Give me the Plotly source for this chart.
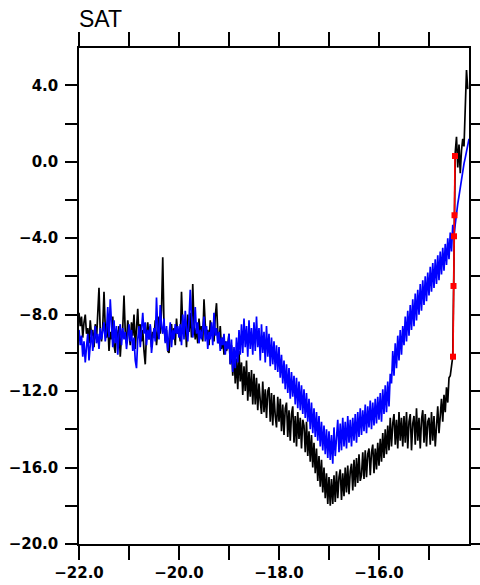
import plotly.graph_objects as go

# ---- data ----
x_time = [
    -22.000, -21.975, -21.950, -21.925, -21.900, -21.875, -21.850, -21.825, -21.800, -21.775,
    -21.750, -21.725, -21.700, -21.675, -21.650, -21.625, -21.600, -21.575, -21.550, -21.525,
    -21.500, -21.475, -21.450, -21.425, -21.400, -21.375, -21.350, -21.325, -21.300, -21.275,
    -21.250, -21.225, -21.200, -21.175, -21.150, -21.125, -21.100, -21.075, -21.050, -21.025,
    -21.000, -20.975, -20.950, -20.925, -20.900, -20.875, -20.850, -20.825, -20.800, -20.775,
    -20.750, -20.725, -20.700, -20.675, -20.650, -20.625, -20.600, -20.575, -20.550, -20.525,
    -20.500, -20.475, -20.450, -20.425, -20.400, -20.375, -20.350, -20.325, -20.300, -20.275,
    -20.250, -20.225, -20.200, -20.175, -20.150, -20.125, -20.100, -20.075, -20.050, -20.025,
    -20.000, -19.975, -19.950, -19.925, -19.900, -19.875, -19.850, -19.825, -19.800, -19.775,
    -19.750, -19.725, -19.700, -19.675, -19.650, -19.625, -19.600, -19.575, -19.550, -19.525,
    -19.500, -19.475, -19.450, -19.425, -19.400, -19.375, -19.350, -19.325, -19.300, -19.275,
    -19.250, -19.225, -19.200, -19.175, -19.150, -19.125, -19.100, -19.075, -19.050, -19.025,
    -19.000, -18.975, -18.950, -18.925, -18.900, -18.875, -18.850, -18.825, -18.800, -18.775,
    -18.750, -18.725, -18.700, -18.675, -18.650, -18.625, -18.600, -18.575, -18.550, -18.525,
    -18.500, -18.475, -18.450, -18.425, -18.400, -18.375, -18.350, -18.325, -18.300, -18.275,
    -18.250, -18.225, -18.200, -18.175, -18.150, -18.125, -18.100, -18.075, -18.050, -18.025,
    -18.000, -17.975, -17.950, -17.925, -17.900, -17.875, -17.850, -17.825, -17.800, -17.775,
    -17.750, -17.725, -17.700, -17.675, -17.650, -17.625, -17.600, -17.575, -17.550, -17.525,
    -17.500, -17.475, -17.450, -17.425, -17.400, -17.375, -17.350, -17.325, -17.300, -17.275,
    -17.250, -17.225, -17.200, -17.175, -17.150, -17.125, -17.100, -17.075, -17.050, -17.025,
    -17.000, -16.975, -16.950, -16.925, -16.900, -16.875, -16.850, -16.825, -16.800, -16.775,
    -16.750, -16.725, -16.700, -16.675, -16.650, -16.625, -16.600, -16.575, -16.550, -16.525,
    -16.500, -16.475, -16.450, -16.425, -16.400, -16.375, -16.350, -16.325, -16.300, -16.275,
    -16.250, -16.225, -16.200, -16.175, -16.150, -16.125, -16.100, -16.075, -16.050, -16.025,
    -16.000, -15.975, -15.950, -15.925, -15.900, -15.875, -15.850, -15.825, -15.800, -15.775,
    -15.750, -15.725, -15.700, -15.675, -15.650, -15.625, -15.600, -15.575, -15.550, -15.525,
    -15.500, -15.475, -15.450, -15.425, -15.400, -15.375, -15.350, -15.325, -15.300, -15.275,
    -15.250, -15.225, -15.200, -15.175, -15.150, -15.125, -15.100, -15.075, -15.050, -15.025,
    -15.000, -14.975, -14.950, -14.925, -14.900, -14.875, -14.850, -14.825, -14.800, -14.775,
    -14.750, -14.725, -14.700, -14.675, -14.650, -14.625, -14.600, -14.575, -14.550, -14.525,
    -14.500, -14.475, -14.450, -14.425, -14.400, -14.375, -14.350, -14.325, -14.300, -14.275,
    -14.250, -14.225, -14.200,
]

sat_black = [
    -7.9, -8.6, -8.1, -9.2, -8.4, -8.0, -9.0, -8.7, -9.5, -8.3, -9.1, -8.8, -9.7, -8.5, -9.3, -7.4, -6.6, -8.9, -9.4, -8.6,
    -6.8, -8.7, -9.2, -8.4, -9.9, -8.9, -9.3, -8.1, -9.6, -10.0, -8.8, -9.4, -8.6, -10.2, -9.1, -8.7, -7.0, -8.9, -9.5, -8.3,
    -8.9, -9.6, -8.4, -9.1, -8.0, -9.8, -8.7, -7.7, -9.2, -8.5, -9.4, -8.8, -9.9, -10.6, -9.0, -8.4, -9.3, -8.6, -9.7, -8.9,
    -9.2, -8.3, -9.6, -8.7, -8.1, -9.0, -7.8, -5.0, -8.6, -9.4, -8.8, -9.9, -10.0, -9.1, -8.5, -9.3, -8.7, -9.6, -8.2, -9.0,
    -8.8, -9.4, -6.8, -8.6, -9.1, -8.3, -9.7, -8.0, -8.9, -7.9, -9.2, -6.4, -8.5, -9.3, -8.7, -9.5, -8.2, -9.0, -8.6, -9.4,
    -7.2, -8.5, -9.1, -8.8, -9.6, -8.3, -9.0, -8.7, -9.4, -8.1, -7.4, -8.9, -9.5, -8.6, -9.8, -9.2, -10.1, -9.4, -9.9, -9.6,
    -9.0, -10.6, -9.6, -11.2, -10.0, -11.6, -10.3, -11.9, -9.9, -11.5, -10.5, -12.2, -10.7, -12.0, -10.4, -12.5, -11.0, -12.3, -10.9, -12.7,
    -11.1, -12.7, -11.3, -13.0, -11.6, -12.5, -13.2, -11.5, -13.1, -11.9, -13.4, -12.0, -11.8, -13.6, -12.1, -13.8, -12.2, -13.3, -13.9, -12.3,
    -13.6, -12.4, -14.1, -12.7, -14.3, -12.9, -12.6, -14.4, -13.0, -14.6, -13.2, -12.8, -14.7, -13.3, -14.9, -13.1, -14.5, -13.4, -15.0, -13.5,
    -13.8, -15.2, -13.6, -15.4, -14.1, -15.7, -14.3, -16.0, -14.7, -16.3, -15.0, -16.7, -15.4, -17.0, -15.6, -17.3, -16.0, -17.6, -16.3, -17.9,
    -16.5, -18.0, -16.6, -17.9, -16.4, -17.8, -16.2, -17.6, -16.5, -16.1, -17.7, -16.3, -17.5, -16.0, -17.3, -15.9, -17.4, -16.2, -15.8, -17.2,
    -15.6, -17.0, -15.5, -16.8, -15.3, -16.7, -16.4, -15.2, -16.6, -15.1, -16.5, -15.3, -15.0, -16.4, -15.2, -14.8, -16.3, -15.0, -16.1, -14.7,
    -15.9, -14.5, -15.7, -14.2, -15.5, -14.0, -15.3, -13.8, -15.1, -13.4, -14.9, -13.7, -13.2, -14.8, -13.5, -15.0, -13.1, -14.6, -13.4, -14.9,
    -13.3, -14.7, -13.1, -15.0, -13.6, -13.2, -15.1, -13.7, -13.3, -14.8, -12.9, -14.6, -13.4, -15.0, -13.5, -13.0, -14.7, -13.2, -14.9, -13.6,
    -13.4, -14.8, -13.1, -14.6, -13.3, -14.9, -13.6, -12.8, -14.2, -13.0, -12.4, -13.6, -12.2, -13.1, -11.8, -12.6, -11.3, -11.2, -10.6, -10.2,
    -5.0, 0.5, 1.3, -0.3, 0.9, -0.6, 0.6, 1.2, 0.8, 3.4, 4.8, 3.8,
]

sat_blue = [
    -8.8, -9.6, -9.1, -10.2, -9.4, -10.5, -9.7, -9.0, -10.4, -9.3, -8.8, -9.9, -9.2, -8.6, -9.5, -9.0, -9.8, -8.7, -9.3, -8.9,
    -8.4, -9.4, -8.9, -7.6, -9.2, -7.2, -8.8, -9.7, -8.3, -9.5, -8.6, -10.1, -9.0, -8.5, -9.6, -8.7, -9.3, -8.9, -9.8, -9.1,
    -8.5, -9.4, -8.8, -9.9, -9.2, -10.4, -10.8, -9.3, -8.6, -9.7, -8.9, -7.9, -9.0, -8.4, -9.6, -8.8, -9.3, -8.5, -10.0, -9.1,
    -8.7, -9.4, -7.1, -8.8, -9.3, -7.5, -8.6, -9.0, -8.2, -9.5, -8.6, -9.9, -9.1, -8.4, -9.7, -8.8, -9.3, -8.5, -9.0, -8.6,
    -9.2, -8.5, -9.6, -8.0, -9.3, -7.8, -8.7, -9.4, -8.3, -6.7, -8.1, -9.2, -8.6, -7.6, -9.0, -8.4, -9.5, -8.8, -9.3, -8.7,
    -8.1, -9.4, -8.6, -9.8, -8.9, -9.3, -8.4, -9.6, -7.9, -9.1, -8.7, -9.5, -8.9, -9.9, -9.2, -9.6, -9.0, -10.1, -9.4, -9.8,
    -9.0, -10.6, -9.3, -11.0, -9.7, -10.8, -9.2, -10.5, -8.8, -10.1, -8.5, -10.0, -8.2, -9.7, -8.6, -10.2, -8.3, -9.8, -8.7, -10.1,
    -8.4, -9.9, -8.1, -9.7, -8.7, -10.4, -8.5, -10.0, -8.9, -10.5, -8.6, -10.2, -9.0, -10.7, -9.2, -10.6, -9.4, -10.9, -9.6, -11.0,
    -9.7, -11.3, -10.1, -11.6, -10.4, -11.9, -10.6, -12.1, -10.8, -12.4, -11.0, -12.3, -11.2, -12.7, -11.3, -12.9, -11.5, -13.0, -11.7, -13.2,
    -11.9, -13.4, -12.1, -13.6, -12.4, -14.0, -12.6, -14.2, -12.9, -14.4, -13.1, -14.6, -13.3, -14.9, -13.6, -15.1, -13.8, -15.3, -14.0, -15.5,
    -14.1, -15.6, -14.3, -15.8, -13.9, -15.4, -14.2, -13.5, -15.2, -13.7, -15.1, -13.4, -14.9, -13.6, -15.0, -13.3, -14.7, -13.5, -14.9, -13.4,
    -14.6, -13.2, -14.7, -13.1, -14.4, -12.9, -14.3, -13.0, -14.1, -12.7, -14.2, -12.8, -13.9, -12.5, -14.0, -12.6, -13.8, -12.4, -13.7, -12.3,
    -13.5, -12.1, -13.6, -11.9, -13.2, -11.7, -13.1, -11.5, -12.8, -11.1, -11.6, -9.9, -11.2, -9.5, -10.8, -9.1, -10.4, -8.8, -10.1, -8.6,
    -9.6, -8.1, -9.4, -7.8, -9.1, -7.5, -8.8, -7.2, -8.6, -6.9, -8.3, -6.7, -8.0, -6.4, -7.8, -6.2, -7.5, -6.0, -7.3, -5.8,
    -7.0, -5.5, -6.8, -5.3, -6.6, -5.1, -6.4, -4.9, -6.2, -4.7, -5.9, -4.5, -5.7, -4.3, -5.4, -4.0, -5.1, -3.7, -4.7, -3.3,
    -3.8, -3.2, -2.8, -2.2, -1.8, -1.3, -1.0, -0.5, -0.1, 0.2, 0.6, 0.9, 1.2,
]

red_x = [-14.48, -14.49, -14.50, -14.51, -14.52]
red_y = [0.3, -2.8, -3.9, -6.5, -10.2]

x_ticks = [-22, -21, -20, -19, -18, -17, -16, -15]
x_tick_labels = ["\u221222.0", "", "\u221220.0", "", "\u221218.0", "", "\u221216.0", ""]
y_ticks = [-20, -18, -16, -14, -12, -10, -8, -6, -4, -2, 0, 2, 4]
y_tick_labels = ["\u221220.0", "", "\u221216.0", "", "\u221212.0", "", "\u22128.0", "",
                 "\u22124.0", "", "0.0", "", "4.0"]

assert len(sat_black) == 312, len(sat_black)
assert len(sat_blue) == len(x_time) == 313, (len(sat_blue), len(x_time))

fig = go.Figure()
fig.add_trace(go.Scatter(x=x_time[:len(sat_black)], y=sat_black, mode="lines",
                         line=dict(color="black", width=1.7), showlegend=False))
fig.add_trace(go.Scatter(x=x_time[:len(sat_blue)], y=sat_blue, mode="lines",
                         line=dict(color="#0000ff", width=1.7), showlegend=False))
fig.add_trace(go.Scatter(x=red_x, y=red_y, mode="lines+markers",
                         line=dict(color="#ff0000", width=1.6),
                         marker=dict(symbol="square", size=6, color="#ff0000"),
                         showlegend=False))

tickfont = dict(family="DejaVu Sans", size=15, color="black", weight="bold")
fig.update_xaxes(range=[-22, -14.2], tickvals=x_ticks, ticktext=x_tick_labels,
                 ticks="outside", ticklen=14, tickwidth=1.5, tickcolor="black",
                 showline=True, linecolor="black", linewidth=1.5, mirror="allticks",
                 showgrid=False, zeroline=False, tickfont=tickfont, automargin=False)
fig.update_yaxes(range=[-20, 5.95], tickvals=y_ticks, ticktext=y_tick_labels,
                 ticks="outside", ticklen=12, tickwidth=1.5, tickcolor="black",
                 showline=True, linecolor="black", linewidth=1.5, mirror="allticks",
                 showgrid=False, zeroline=False, tickfont=tickfont, ticklabelstandoff=4,
                 automargin=False)

fig.add_annotation(text="SAT", xref="paper", yref="paper", x=0, y=1,
                   xanchor="left", yanchor="bottom", yshift=14, xshift=-2, showarrow=False,
                   font=dict(family="Liberation Sans", size=23, color="black"))

fig.update_layout(width=480, height=585, margin=dict(l=79, r=11, t=48, b=41),
                  plot_bgcolor="white", paper_bgcolor="white")

fig.write_html("out.html")
